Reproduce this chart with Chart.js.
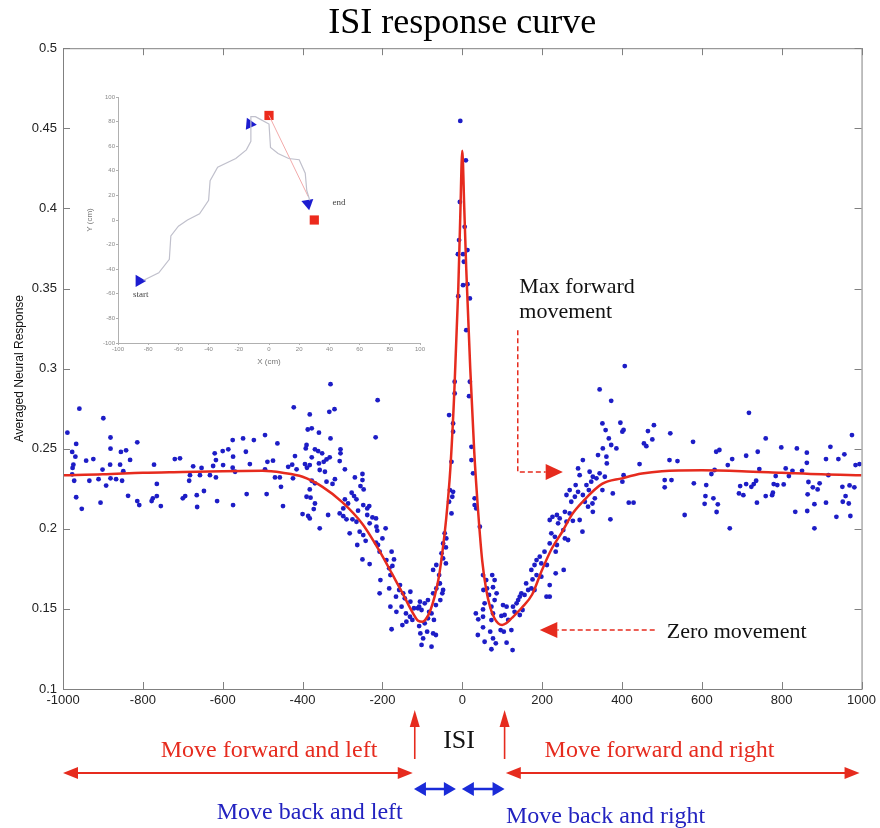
<!DOCTYPE html>
<html>
<head>
<meta charset="utf-8">
<script src="https://cdn.jsdelivr.net/npm/chart.js@4.4.1/dist/chart.umd.min.js"></script>
<style>
  html, body { margin: 0; padding: 0; background: #fff; }
  #wrap { position: relative; width: 880px; height: 828px; }
  #main { position: absolute; left: 0; top: 0; }
  #inset { position: absolute; left: 85px; top: 85px; }
</style>
</head>
<body>
<div id="wrap">
  <canvas id="main" width="880" height="828"></canvas>
  <canvas id="inset" width="345" height="282"></canvas>
</div>
<script>
// ---- main chart data: [ISI, averaged response] ----
const farLeftDots = [
  [-959,.275],[-899,.269],[-989,.260],[-967,.253],[-881,.257],[-814,.254],[-977,.248],[-881,.250],
  [-855,.248],[-842,.249],[-969,.245],[-942,.2425],[-924,.2435],[-832,.243],[-974,.240],[-976,.238],
  [-882,.240],[-857,.240],[-901,.237],[-849,.236],[-772,.240],[-720,.2435],[-707,.244],[-674,.239],
  [-653,.238],[-977,.234],[-972,.230],[-934,.230],[-911,.231],[-881,.2315],[-867,.231],[-852,.230],
  [-892,.227],[-765,.228],[-684,.230],[-682,.2335],[-657,.2335],[-647,.2236],[-967,.2197],[-837,.2206],
  [-906,.2163],[-814,.2173],[-809,.2148],[-775,.219],[-778,.2173],[-765,.2204],[-755,.2142],[-700,.219],
  [-694,.2204],[-665,.221],[-664,.2136],[-953,.2125]
];
const leftShoulderDots = [
  [-330,.2903],[-422,.2758],[-382,.2714],[-333,.273],[-320,.2747],[-387,.262],[-377,.2627],[-359,.260],
  [-330,.2564],[-494,.2585],[-575,.2554],[-549,.2564],[-522,.2554],[-463,.2533],[-620,.2471],[-600,.2485],
  [-586,.2496],[-542,.2481],[-574,.245],[-617,.2429],[-390,.2523],[-392,.2502],[-369,.2496],[-361,.2485],
  [-351,.2471],[-340,.2433],[-347,.2418],[-332,.2446],[-419,.2454],[-377,.2446],[-474,.2425],[-488,.2418],
  [-624,.2392],[-599,.2398],[-575,.2381],[-569,.2356],[-532,.2404],[-494,.2371],[-436,.2387],[-426,.240],
  [-394,.2404],[-389,.2381],[-382,.2398],[-415,.2371],[-359,.2408],[-357,.2367],[-344,.2356],[-632,.2335],
  [-617,.2321],[-469,.2321],[-457,.2321],[-424,.2315],[-377,.230],[-369,.2284],[-340,.2294],[-325,.228],
  [-319,.231],[-454,.2262],[-382,.2246],[-540,.2217],[-490,.2217],[-390,.220],[-380,.2194],[-614,.2173],
  [-574,.2148],[-449,.2142],[-369,.2158],[-372,.2123],[-400,.2092],[-386,.208],[-382,.2065],[-336,.2086],
  [-357,.2003]
];
const leftDipDots = [
  [-212,.2803],[-217,.2571],[-305,.2496],[-305,.2471],[-307,.2423],[-294,.2371],[-269,.2321],[-250,.2342],
  [-250,.2304],[-247,.2246],[-255,.2267],[-277,.2225],[-271,.2204],[-265,.2184],[-294,.2184],[-286,.2158],
  [-298,.2127],[-307,.2096],[-298,.2079],[-290,.2059],[-275,.2059],[-265,.2044],[-282,.1972],[-261,.2113],
  [-248,.2148],[-238,.2127],[-233,.2142],[-238,.2086],[-225,.2071],[-216,.2065],[-232,.2034],[-215,.2013],
  [-213,.1988],[-192,.2003],[-257,.1982],[-248,.1961],[-242,.1925],[-263,.1899],[-216,.1913],[-211,.1899],
  [-207,.1857],[-250,.1809],[-232,.178],[-200,.194],[-190,.1805],[-183,.1753],[-175,.1768],[-180,.1711],
  [-171,.1809],[-177,.1857],[-205,.168],[-183,.1628],[-207,.1597],[-156,.1649],[-158,.1618],[-148,.1597],
  [-144,.1566],[-130,.1607],[-166,.1576],[-180,.1514],[-165,.1482],[-152,.1514],[-177,.1373],[-150,.1399],
  [-141,.1472],[-131,.1451],[-125,.1431],[-140,.142],[-130,.1545],[-121,.1504],[-111,.1504],[-102,.1493],
  [-108,.1514],[-106,.1545],[-94,.1535],[-86,.1555],[-83,.1482],[-108,.1393],[-94,.141],[-105,.1347],
  [-88,.1358],[-98,.1316],[-102,.1275],[-77,.1264],[-86,.1441],[-77,.1472],[-66,.1524],[-71,.1431],
  [-73,.1597],[-65,.1628],[-58,.1659],[-50,.1597],[-55,.1555],[-66,.1337],[-73,.1347]
];
const peakDots = [
  [-5,.4546],[9,.430],[-6,.404],[6,.3885],[-8,.3802],[-11,.3714],[2,.3714],[13,.374],[4,.3667],[2,.3521],
  [13,.3527],[-10,.3452],[19,.3438],[10,.324],[-19,.2918],[19,.2918],[-19,.2845],[17,.2828],[-33,.271],
  [-23,.2658],[-23,.2606],[23,.2512],[23,.2429],[27,.2346],[-27,.2418],[-23,.2231],[-31,.2242],[-25,.220],
  [-33,.2169],[-27,.2096],[31,.219],[31,.2148],[35,.2127],[44,.2013],[-44,.1972],[-40,.194],[-48,.1909],
  [-41,.1884],[-52,.1847],[-48,.1815],[-41,.1784],[-65,.1774],[-73,.1743],[-58,.1711],[-56,.1659],
  [-48,.1618],[52,.1711],[60,.168],[53,.1618],[62,.1628],[67,.1587],[75,.1711],[81,.168],[77,.1635],
  [86,.1597],[81,.1555],[73,.1514],[56,.1535],[52,.1451],[77,.1472],[73,.143]
];
const rightDipDots = [
  [34,.1472],[52,.1497],[40,.1435],[52,.1385],[70,.1358],[39,.1337],[56,.1295],[77,.1316],[73,.1248],
  [84,.1285],[102,.1524],[111,.1514],[98,.1456],[106,.1462],[115,.1431],[96,.1368],[111,.1289],[126,.1243],
  [104,.1358],[123,.1368],[127,.1514],[136,.1535],[140,.1555],[144,.1576],[148,.1597],[131,.1482],[144,.1462],
  [151,.1493],[156,.1587],[165,.1618],[173,.1628],[181,.1618],[160,.1659],[176,.1684],[186,.1711],[198,.1701],
  [211,.1576],[219,.1576],[173,.1743],[181,.1774],[186,.1805],[194,.1826],[206,.1857],[219,.1909],[198,.1784],
  [219,.1649],[212,.1774],[234,.1857],[237,.1899],[232,.195],[223,.1972],[240,.2034],[253,.1992],[257,.194],
  [265,.193],[254,.1743],[234,.1722],[219,.2055],[226,.2075],[237,.2086],[244,.2065],[257,.2106],[269,.2096],
  [261,.2044],[277,.205],[294,.2055],[301,.1982],[273,.2169],[261,.2211],[269,.2242],[284,.2273],[282,.220],
  [290,.2231],[302,.2211],[307,.2169],[315,.2138],[326,.2158],[327,.2106],[332,.219],[317,.2242],[311,.2273],
  [323,.2294],[336,.2315],[344,.2346],[351,.2242],[357,.2325],[371,.2059],[294,.2335],[290,.2377],[302,.2429],
  [319,.2356],[327,.2325],[340,.246],[352,.2502],[361,.245],[367,.2564],[373,.2523],[386,.2502],[344,.287],
  [373,.2799],[351,.2658],[359,.2616],[362,.2408],[377,.2221],[407,.3016]
];
const farRightDots = [
  [396,.2662],[401,.2606],[404,.2617],[404,.2335],[401,.2294],[444,.2404],[417,.2163],[429,.2163],[465,.261],
  [480,.2647],[476,.2558],[455,.2533],[461,.2516],[521,.2596],[519,.2429],[539,.2423],[507,.2304],[524,.2304],
  [507,.2259],[578,.2543],[580,.2284],[557,.2086],[611,.2273],[609,.2204],[607,.2156],[632,.2367],[624,.2342],
  [636,.2481],[644,.2492],[629,.219],[640,.2153],[637,.2105],[665,.2398],[676,.2435],[693,.2221],[704,.221],
  [670,.2003],[711,.2456],[718,.2724],[724,.2262],[730,.2279],[736,.230],[740,.2481],[744,.2373],[760,.2564],
  [760,.2204],[776,.221],[778,.2225],[780,.2279],[785,.2329],[738,.2163],[799,.2508],[805,.2277],[810,.2377],
  [818,.2329],[827,.2362],[838,.2502],[834,.2106],[851,.2362],[863,.2475],[863,.2412],[867,.2292],[865,.2215],
  [864,.2111],[878,.2259],[882,.2154],[890,.2246],[895,.2284],[911,.2163],[911,.2435],[922,.2512],[917,.2335],
  [942,.2435],[937,.2075],[957,.2465],[952,.2262],[960,.2204],[953,.2169],[968,.2158],[972,.208],[970,.2271],
  [976,.2585],[982,.2259],[985,.2398],[995,.2404],[882,.2003],[789,.2273],[711,.2279],[696,.2267]
];

// fitted response curve
const curveIsi = [-1000,-900,-800,-700,-600,-500,-450,-400,-350,-300,-250,-200,-175,-150,-125,-110,-100,-90,-80,-70,
  -60,-50,-40,-30,-20,-10,-5,0,5,10,20,30,40,50,60,70,80,90,100,110,125,150,175,200,225,250,275,300,350,400,
  450,500,600,700,800,900,1000];
const curveResponse = [.2335,.234,.235,.2355,.236,.2362,.235,.2325,.2262,.2165,.203,.183,.1715,.160,.148,.1425,.142,
  .144,.149,.157,.168,.185,.207,.237,.285,.350,.395,.436,.400,.362,.300,.248,.210,.180,.162,.151,.1445,.141,.140,
  .141,.1445,.151,.159,.1745,.188,.198,.209,.2165,.228,.2315,.2345,.236,.2365,.236,.235,.234,.2335];

const xTicks = [-1000,-800,-600,-400,-200,0,200,400,600,800,1000];
const yTicks = [0.1,0.15,0.2,0.25,0.3,0.35,0.4,0.45,0.5];

// annotation anchors (ISI, response)
const maxNoteAt = [143, 0.3475];
const maxArrowIsi = [139, 209, 252];
const maxArrowResp = [0.324, 0.2354];
const zeroNoteAt = [512, 0.1318];
const zeroArrowIsi = [482, 238, 194];
const zeroArrowResp = 0.1368;
const upArrowIsi = [-119, 106];
const redSpans = [[-1000, -124], [109, 995]];
const blueSpans = [[-121, -16], [-1, 106]];

// ---- inset (trajectory, cm) ----
const insetPathX = [-83,-73,-66,-65,-60,-54,-46,-40,-39,-34,-22,-15,-12,-12,-9,-6,0,1,6,13,20,24,25,27];
const insetPathY = [-49,-43,-32,-13,-5,0,5,16,32,43,50,57,64,84,84,82,78,59,54,50,49,38,24,16];
const homingX = [0, 26];
const homingY = [85, 19];
const squareX = [0, 30];
const squareY = [85, 0];
const triX = [-86, -12.7, 25.8];
const triY = [-49.5, 78, 13.5];
const triRotation = [90, -25, 50];
const insetTicks = [-100,-80,-60,-40,-20,0,20,40,60,80,100];

const RED = "#e62b1e";
const BLUE = "#1d1dc6";
const SERIF = "'Liberation Serif', 'Times New Roman', serif";
const SANS = "'Liberation Sans', Arial, sans-serif";

function head(ctx, tx, ty, ang, len, half) {
  const bx = tx - len * Math.cos(ang), by = ty - len * Math.sin(ang);
  ctx.beginPath();
  ctx.moveTo(tx, ty);
  ctx.lineTo(bx + half * Math.sin(ang), by - half * Math.cos(ang));
  ctx.lineTo(bx - half * Math.sin(ang), by + half * Math.cos(ang));
  ctx.closePath();
  ctx.fill();
}

function doubleArrow(ctx, x1, x2, yy, color, lw, len, half) {
  ctx.strokeStyle = color;
  ctx.fillStyle = color;
  ctx.lineWidth = lw;
  ctx.beginPath();
  ctx.moveTo(x1 + len * 0.7, yy);
  ctx.lineTo(x2 - len * 0.7, yy);
  ctx.stroke();
  head(ctx, x1, yy, Math.PI, len, half);
  head(ctx, x2, yy, 0, len, half);
}

const mainNotes = {
  id: "mainNotes",
  afterDraw(chart) {
    const { ctx, chartArea: a, scales: { x, y } } = chart;
    ctx.save();

    // matlab style box with inward ticks
    ctx.strokeStyle = "#808080";
    ctx.lineWidth = 1;
    ctx.strokeRect(a.left + 0.5, a.top + 0.5, a.right - a.left, a.bottom - a.top);
    ctx.beginPath();
    xTicks.forEach((v) => {
      const px = Math.round(x.getPixelForValue(v)) + 0.5;
      ctx.moveTo(px, a.bottom); ctx.lineTo(px, a.bottom - 7);
      ctx.moveTo(px, a.top); ctx.lineTo(px, a.top + 7);
    });
    yTicks.forEach((v) => {
      const py = Math.round(y.getPixelForValue(v)) + 0.5;
      ctx.moveTo(a.left, py); ctx.lineTo(a.left + 7, py);
      ctx.moveTo(a.right, py); ctx.lineTo(a.right - 7, py);
    });
    ctx.stroke();

    // "Max forward movement"
    ctx.fillStyle = "#111";
    ctx.font = `22px ${SERIF}`;
    ctx.textAlign = "left";
    ctx.textBaseline = "alphabetic";
    const mx = x.getPixelForValue(maxNoteAt[0]);
    const my = y.getPixelForValue(maxNoteAt[1]);
    ctx.fillText("Max forward", mx, my);
    ctx.fillText("movement", mx, my + 25);

    ctx.strokeStyle = RED;
    ctx.fillStyle = RED;
    ctx.lineWidth = 1.5;
    ctx.setLineDash([5, 3]);
    const ax0 = x.getPixelForValue(maxArrowIsi[0]);
    const ax1 = x.getPixelForValue(maxArrowIsi[1]);
    const ay0 = y.getPixelForValue(maxArrowResp[0]);
    const ay1 = y.getPixelForValue(maxArrowResp[1]);
    ctx.beginPath();
    ctx.moveTo(ax0, ay0); ctx.lineTo(ax0, ay1); ctx.lineTo(ax1, ay1);
    ctx.stroke();
    const zx0 = x.getPixelForValue(zeroArrowIsi[0]);
    const zx1 = x.getPixelForValue(zeroArrowIsi[1]);
    const zy = y.getPixelForValue(zeroArrowResp);
    ctx.beginPath();
    ctx.moveTo(zx0, zy); ctx.lineTo(zx1, zy);
    ctx.stroke();
    ctx.setLineDash([]);
    head(ctx, x.getPixelForValue(maxArrowIsi[2]), ay1, 0, x.getPixelForValue(maxArrowIsi[2]) - ax1, 8);
    head(ctx, x.getPixelForValue(zeroArrowIsi[2]), zy, Math.PI, zx1 - x.getPixelForValue(zeroArrowIsi[2]), 8);

    ctx.fillStyle = "#111";
    ctx.fillText("Zero movement", x.getPixelForValue(zeroNoteAt[0]), y.getPixelForValue(zeroNoteAt[1]));

    // legend of movement directions under the axis
    const b = a.bottom;
    ctx.textAlign = "center";
    ctx.font = `26px ${SERIF}`;
    ctx.fillStyle = "#111";
    ctx.fillText("ISI", x.getPixelForValue(-8), b + 59);

    ctx.fillStyle = RED;
    ctx.strokeStyle = RED;
    ctx.lineWidth = 1.6;
    upArrowIsi.forEach((v) => {
      const px = x.getPixelForValue(v);
      ctx.beginPath();
      ctx.moveTo(px, b + 70); ctx.lineTo(px, b + 34);
      ctx.stroke();
      head(ctx, px, b + 21, -Math.PI / 2, 17, 5);
    });

    ctx.font = `24px ${SERIF}`;
    ctx.fillText("Move forward and left", x.getPixelForValue(-484), b + 68);
    ctx.fillText("Move forward and right", x.getPixelForValue(494), b + 68);
    redSpans.forEach(([s, e]) => doubleArrow(ctx, x.getPixelForValue(s), x.getPixelForValue(e), b + 84, RED, 2, 15, 6));

    blueSpans.forEach(([s, e]) => doubleArrow(ctx, x.getPixelForValue(s), x.getPixelForValue(e), b + 100, "#1a2bd8", 2.5, 12, 7));
    ctx.fillStyle = "#2222c0";
    ctx.fillText("Move back and left", x.getPixelForValue(-382), b + 130);
    ctx.fillText("Move back and right", x.getPixelForValue(359), b + 134);

    ctx.restore();
  },
};

const allDots = [...farLeftDots, ...leftShoulderDots, ...leftDipDots, ...peakDots, ...rightDipDots, ...farRightDots];

new Chart(document.getElementById("main"), {
  type: "scatter",
  data: {
    datasets: [
      {
        type: "line",
        data: curveIsi.map((v, i) => ({ x: v, y: curveResponse[i] })),
        borderColor: RED,
        borderWidth: 2.5,
        pointRadius: 0,
        cubicInterpolationMode: "monotone",
        fill: false,
        order: 0,
      },
      {
        data: allDots.map(([v, r]) => ({ x: v, y: r })),
        backgroundColor: BLUE,
        borderWidth: 0,
        pointRadius: 2.4,
        order: 1,
      },
    ],
  },
  options: {
    responsive: false,
    animation: false,
    layout: { padding: { left: 0, right: 18, top: 0, bottom: 0 } },
    plugins: {
      legend: { display: false },
      tooltip: { enabled: false },
      title: {
        display: true,
        text: "ISI response curve",
        fullSize: false,
        color: "#000",
        font: { family: SERIF, size: 36, weight: "normal" },
        padding: { top: 2, bottom: 3 },
      },
    },
    scales: {
      x: {
        type: "linear",
        min: -1000,
        max: 1000,
        afterBuildTicks: (s) => { s.ticks = xTicks.map((v) => ({ value: v })); },
        ticks: {
          color: "#222",
          font: { family: SANS, size: 13 },
          padding: 4,
          maxRotation: 0,
          autoSkip: false,
          callback: (v) => String(v),
        },
        grid: { display: false, drawTicks: false },
        border: { display: false },
        afterFit: (s) => { s.height = 139; },
      },
      y: {
        type: "linear",
        min: 0.1,
        max: 0.5,
        afterBuildTicks: (s) => { s.ticks = yTicks.map((v) => ({ value: v })); },
        ticks: {
          color: "#222",
          font: { family: SANS, size: 13 },
          padding: 6,
          autoSkip: false,
          callback: (v) => String(+v.toFixed(2)),
        },
        grid: { display: false, drawTicks: false },
        border: { display: false },
        title: {
          display: true,
          text: "Averaged Neural Response",
          color: "#111",
          font: { family: SANS, size: 12 },
          padding: { top: 12, bottom: 0 },
        },
        afterFit: (s) => { s.width = 63; },
      },
    },
  },
  plugins: [mainNotes],
});

const insetNotes = {
  id: "insetNotes",
  afterDraw(chart) {
    const { ctx, scales: { x, y } } = chart;
    ctx.save();
    ctx.fillStyle = "#444";
    ctx.font = `9px ${SERIF}`;
    ctx.textAlign = "left";
    ctx.textBaseline = "middle";
    ctx.fillText("start", x.getPixelForValue(-90), y.getPixelForValue(-61));
    ctx.fillText("end", x.getPixelForValue(42), y.getPixelForValue(14));
    ctx.restore();
  },
};

const insetAxis = (label, fitFn) => ({
  type: "linear",
  min: -100,
  max: 100,
  afterBuildTicks: (s) => { s.ticks = insetTicks.map((v) => ({ value: v })); },
  ticks: { color: "#888", font: { family: SANS, size: 6 }, padding: 1, maxRotation: 0, autoSkip: false },
  grid: { drawOnChartArea: false, tickLength: 2, color: "#b0b0b0" },
  border: { color: "#b0b0b0" },
  title: { display: true, text: label, color: "#777", font: { family: SANS, size: 8 }, padding: 0 },
  afterFit: fitFn,
});

new Chart(document.getElementById("inset"), {
  type: "scatter",
  data: {
    datasets: [
      {
        data: insetPathX.map((v, i) => ({ x: v, y: insetPathY[i] })),
        showLine: true,
        borderColor: "#c0c0cc",
        borderWidth: 1.2,
        pointRadius: 0,
      },
      {
        data: homingX.map((v, i) => ({ x: v, y: homingY[i] })),
        showLine: true,
        borderColor: "#f2aaaa",
        borderWidth: 1,
        pointRadius: 0,
      },
      {
        data: squareX.map((v, i) => ({ x: v, y: squareY[i] })),
        pointStyle: "rect",
        pointRadius: 6.5,
        backgroundColor: "#ec2a1c",
        borderWidth: 0,
      },
      {
        data: triX.map((v, i) => ({ x: v, y: triY[i] })),
        pointStyle: "triangle",
        pointRadius: 7,
        pointRotation: (c) => triRotation[c.dataIndex],
        backgroundColor: "#1c1cd0",
        borderWidth: 0,
      },
    ],
  },
  options: {
    responsive: false,
    animation: false,
    layout: { padding: { top: 12, right: 10, left: 0, bottom: 0 } },
    plugins: { legend: { display: false }, tooltip: { enabled: false } },
    scales: {
      x: insetAxis("X (cm)", (s) => { s.height = 24; }),
      y: insetAxis("Y (cm)", (s) => { s.width = 33; }),
    },
  },
  plugins: [insetNotes],
});
</script>
</body>
</html>
